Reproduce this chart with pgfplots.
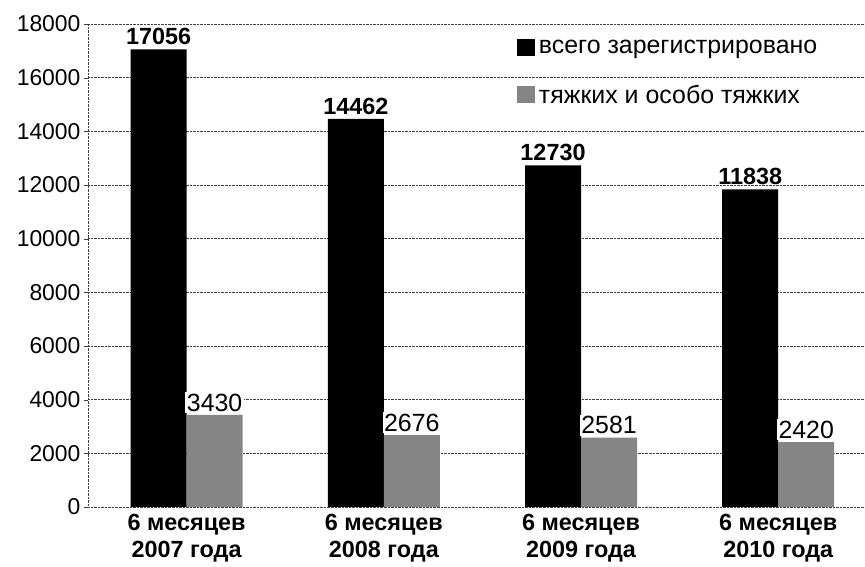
\documentclass[border=0pt]{standalone}
\usepackage{fontspec}
\setmainfont{Liberation Sans}
\usepackage{pgfplots}
\pgfplotsset{compat=1.18}
\begin{document}
\begin{tikzpicture}
\useasboundingbox (0,0) rectangle (865bp,567bp);
\begin{axis}[
  at={(88bp,60bp)}, anchor=south west,
  scale only axis, width=777bp, height=483bp,
  xmin=-0.5, xmax=3.44, ymin=0, ymax=18000,
  ytick={0,2000,...,18000},
  xtick={0,1,2,3},
  xticklabels={{6 месяцев\\2007 года},{6 месяцев\\2008 года},{6 месяцев\\2009 года},{6 месяцев\\2010 года}},
  xticklabel style={align=center, font=\bfseries\fontsize{23.5}{27}\selectfont},
  yticklabel style={font=\fontsize{23}{23}\selectfont},
  /pgf/number format/assume math mode=true,
  /pgf/number format/1000 sep={},
  scaled y ticks=false,
  axis x line*=bottom, axis y line*=left,
  axis line style={densely dotted, black!75},
  ymajorgrids, major grid style={densely dotted, black!75},
  tick align=outside, major tick length=4bp,
  ytick style={black!75}, xtick style={draw=none},
  ybar=0pt, bar width=56bp,
  legend style={at={(axis description cs:0.548,0.975)}, anchor=north west, draw=none, fill=none,
    font=\fontsize{25}{25}\selectfont, row sep=26bp, legend cell align=left,
    nodes={inner xsep=4bp}},
  legend image code/.code={\path[#1] (0bp,-8bp) rectangle (18bp,9bp);},
]
\addplot[fill=black, draw=none, nodes near coords,
  nodes near coords style={font=\bfseries\fontsize{23.5}{23.5}\selectfont, text=black, yshift=1bp}]
  coordinates {(0,17056) (1,14462) (2,12730) (3,11838)};
\addplot[draw=none, fill=black!48, nodes near coords,
  nodes near coords style={font=\fontsize{25}{25}\selectfont, text=black, fill=white, inner sep=1.5bp, yshift=2bp}]
  coordinates {(0,3430) (1,2676) (2,2581) (3,2420)};
\legend{всего зарегистрировано, тяжких и особо тяжких}
\end{axis}
\end{tikzpicture}
\end{document}
